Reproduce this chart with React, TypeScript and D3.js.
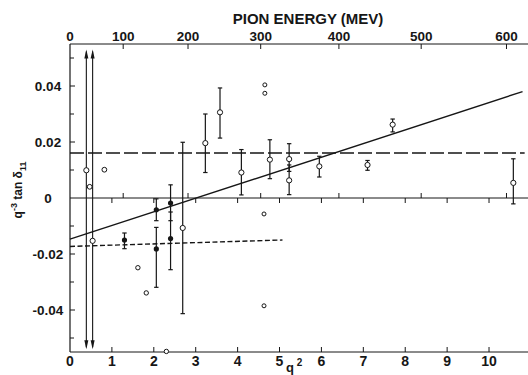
import React, { useEffect, useRef } from 'react';
import * as d3 from 'd3';

// q^2 (in units of m_pi^2) vs q^-3 tan(delta_11)
const q2Ticks = [0, 1, 2, 3, 4, 5, 6, 7, 8, 9, 10];
const q2TickLabels = ['0', '1', '2', '3', '4', '5', '6', '7', '8', '9', '10'];
const energyTicks = [0, 100, 200, 300, 400, 500, 600];
const yMajorTicks = [0.04, 0.02, 0, -0.02, -0.04];
const yTickLabels = ['0.04', '0.02', '0', '-0.02', '-0.04'];
const yMinorTicks = [0.05, 0.03, 0.01, -0.01, -0.03, -0.05];

// open circles with error bars
const openBars = [
  { q2: 2.69, v: -0.0107, lo: -0.0413, hi: 0.0199 },
  { q2: 3.23, v: 0.0196, lo: 0.0091, hi: 0.03 },
  { q2: 3.58, v: 0.0306, lo: 0.0214, hi: 0.0393 },
  { q2: 4.09, v: 0.0091, lo: 0.0011, hi: 0.0173 },
  { q2: 4.77, v: 0.0137, lo: 0.0069, hi: 0.0208 },
  { q2: 5.23, v: 0.0139, lo: 0.0095, hi: 0.0194 },
  { q2: 5.23, v: 0.0063, lo: 0.0012, hi: 0.0118 },
  { q2: 5.95, v: 0.0113, lo: 0.0075, hi: 0.0149 },
  { q2: 7.1, v: 0.0118, lo: 0.0099, hi: 0.0134 },
  { q2: 7.7, v: 0.0262, lo: 0.0236, hi: 0.0282 },
  { q2: 10.58, v: 0.0054, lo: -0.0021, hi: 0.014 }
];

// open circles without bars
const openPlain = [
  { q2: 0.39, v: 0.0099, r: 2.6 },
  { q2: 0.47, v: 0.004, r: 2.4 },
  { q2: 0.54, v: -0.0153, r: 2.6 },
  { q2: 0.82, v: 0.0101, r: 2.4 },
  { q2: 1.62, v: -0.0249, r: 2.2 },
  { q2: 1.82, v: -0.0339, r: 2.2 },
  { q2: 2.3, v: -0.0548, r: 2.2 },
  { q2: 4.63, v: -0.0057, r: 2 },
  { q2: 4.63, v: -0.0385, r: 2 },
  { q2: 4.65, v: 0.0404, r: 2 },
  { q2: 4.65, v: 0.0374, r: 2 }
];

// filled circles with error bars
const filledBars = [
  { q2: 1.3, v: -0.015, lo: -0.0181, hi: -0.0125 },
  { q2: 2.06, v: -0.0042, lo: -0.0081, hi: -0.0003 },
  { q2: 2.06, v: -0.0182, lo: -0.0319, hi: -0.0105 },
  { q2: 2.4, v: -0.0018, lo: -0.0081, hi: 0.0047 },
  { q2: 2.4, v: -0.0145, lo: -0.0256, hi: -0.005 }
];

// unbounded (double arrow) errors
const arrowQ2 = [0.39, 0.54];
const arrowRange = [-0.054, 0.053];

const solidFit: [number, number][] = [[0, -0.0147], [10.8, 0.038]];
const shortDashFit: [number, number][] = [[0, -0.0173], [5.07, -0.015]];
const longDashLevel = 0.0161;
const longDashExtent = [0, 10.85];

// lab pion kinetic energy (MeV) -> q^2 in units of m_pi^2
function energyToQ2(t: number) {
  const m = 139.6, M = 938.3;
  const s = m * m + M * M + 2 * M * (t + m);
  const q2 = ((s - (M + m) ** 2) * (s - (M - m) ** 2)) / (4 * s);
  return q2 / (m * m);
}

export default function App() {
  const svgRef = useRef<SVGSVGElement>(null);
  const width = 528;
  const height = 375;

  useEffect(() => {
    if (!svgRef.current) return;
    const svg = d3.select(svgRef.current);
    svg.selectAll('*').remove();

    const left = 70, right = 528, top = 44, bottom = 352;
    const x = d3.scaleLinear().domain([0, 10.93]).range([left, right]);
    const y = d3.scaleLinear().domain([-0.055, 0.055]).range([bottom, top]);
    const ink = '#161616';
    const font = '"Liberation Sans", Arial, sans-serif';

    const g = svg.append('g');

    // frame
    g.append('line').attr('x1', left).attr('x2', left).attr('y1', top).attr('y2', bottom)
      .attr('stroke', ink).attr('stroke-width', 1.2);
    g.append('line').attr('x1', left).attr('x2', right).attr('y1', top).attr('y2', top)
      .attr('stroke', ink).attr('stroke-width', 1);
    g.append('line').attr('x1', left).attr('x2', right).attr('y1', bottom).attr('y2', bottom)
      .attr('stroke', ink).attr('stroke-width', 1);
    // zero line
    g.append('line').attr('x1', left).attr('x2', right).attr('y1', y(0)).attr('y2', y(0))
      .attr('stroke', ink).attr('stroke-width', 1);

    // bottom ticks (inward) and zero-line down ticks
    q2Ticks.forEach((t, i) => {
      if (t > 0) {
        g.append('line').attr('x1', x(t)).attr('x2', x(t)).attr('y1', bottom).attr('y2', bottom - 5)
          .attr('stroke', ink);
        g.append('line').attr('x1', x(t)).attr('x2', x(t)).attr('y1', y(0)).attr('y2', y(0) + 5)
          .attr('stroke', ink);
      }
      g.append('text').attr('x', x(t)).attr('y', 366).attr('text-anchor', 'middle')
        .attr('font-family', font).attr('font-weight', 'bold').attr('font-size', 14)
        .attr('fill', ink).text(q2TickLabels[i]);
    });

    // top energy axis
    energyTicks.forEach(e => {
      const xe = x(energyToQ2(e));
      if (e > 0) {
        g.append('line').attr('x1', xe).attr('x2', xe).attr('y1', top).attr('y2', top + 5)
          .attr('stroke', ink);
        g.append('line').attr('x1', xe).attr('x2', xe).attr('y1', y(0)).attr('y2', y(0) - 5)
          .attr('stroke', ink);
      }
      g.append('text').attr('x', e === 600 ? Math.min(xe, 510) : xe).attr('y', 41).attr('text-anchor', 'middle')
        .attr('font-family', font).attr('font-weight', 'bold').attr('font-size', 13.5)
        .attr('fill', ink).text(String(e));
    });
    g.append('text').attr('x', 308).attr('y', 24).attr('text-anchor', 'middle')
      .attr('font-family', font).attr('font-weight', 'bold').attr('font-size', 15)
      .attr('fill', ink).text('PION ENERGY (MEV)');

    // left axis ticks + labels
    yMajorTicks.forEach((t, i) => {
      if (t !== 0) {
        g.append('line').attr('x1', left).attr('x2', left + 5).attr('y1', y(t)).attr('y2', y(t))
          .attr('stroke', ink);
      }
      g.append('text').attr('x', 48).attr('y', y(t) + 5).attr('text-anchor', 'middle')
        .attr('font-family', font).attr('font-weight', 'bold').attr('font-size', 13.5)
        .attr('fill', ink).text(yTickLabels[i]);
    });
    yMinorTicks.forEach(t => {
      g.append('line').attr('x1', left).attr('x2', left + 4).attr('y1', y(t)).attr('y2', y(t))
        .attr('stroke', ink);
    });

    // y-axis title
    const yt = g.append('text').attr('transform', 'translate(22,190) rotate(-90)')
      .attr('text-anchor', 'middle').attr('font-family', font).attr('font-weight', 'bold')
      .attr('font-size', 12).attr('fill', ink);
    yt.append('tspan').text('q');
    yt.append('tspan').attr('dy', -5).attr('font-size', 9).text('-3');
    yt.append('tspan').attr('dy', 5).text(' tan δ');
    yt.append('tspan').attr('dy', 3.5).attr('font-size', 9).text('11');

    // x-axis title
    g.append('text').attr('x', 290).attr('y', 371.5).attr('text-anchor', 'middle')
      .attr('font-family', font).attr('font-weight', 'bold').attr('font-size', 13)
      .attr('fill', ink).text('q');
    g.append('text').attr('x', 299.5).attr('y', 366).attr('text-anchor', 'middle')
      .attr('font-family', font).attr('font-weight', 'bold').attr('font-size', 10)
      .attr('fill', ink).text('2');

    // fitted lines
    const lineGen = d3.line<[number, number]>().x(d => x(d[0])).y(d => y(d[1]));
    g.append('path').attr('d', lineGen(solidFit)).attr('fill', 'none')
      .attr('stroke', ink).attr('stroke-width', 1.4);
    g.append('path').attr('d', lineGen(shortDashFit)).attr('fill', 'none')
      .attr('stroke', ink).attr('stroke-width', 1.4).attr('stroke-dasharray', '5,2.5');
    g.append('line').attr('x1', x(longDashExtent[0])).attr('x2', x(longDashExtent[1]))
      .attr('y1', y(longDashLevel)).attr('y2', y(longDashLevel))
      .attr('stroke', ink).attr('stroke-width', 1.5).attr('stroke-dasharray', '14,4');

    // arrows
    arrowQ2.forEach(q => {
      const xa = x(q);
      const y1 = y(arrowRange[1]);
      const y2 = y(arrowRange[0]);
      g.append('line').attr('x1', xa).attr('x2', xa).attr('y1', y1 + 2).attr('y2', y2 - 2)
        .attr('stroke', ink).attr('stroke-width', 1.1);
      g.append('path').attr('d', `M${xa},${y1} L${xa - 2},${y1 + 9} L${xa + 2},${y1 + 9} Z`).attr('fill', ink);
      g.append('path').attr('d', `M${xa},${y2} L${xa - 2},${y2 - 9} L${xa + 2},${y2 - 9} Z`).attr('fill', ink);
    });

    // error bars
    const drawBar = (d: { q2: number; lo: number; hi: number }) => {
      const xb = x(d.q2);
      g.append('line').attr('x1', xb).attr('x2', xb).attr('y1', y(d.lo)).attr('y2', y(d.hi))
        .attr('stroke', ink).attr('stroke-width', 1.2);
      [d.lo, d.hi].forEach(v => {
        g.append('line').attr('x1', xb - 2.2).attr('x2', xb + 2.2).attr('y1', y(v)).attr('y2', y(v))
          .attr('stroke', ink).attr('stroke-width', 1.2);
      });
    };
    openBars.forEach(drawBar);
    filledBars.forEach(drawBar);

    // circles
    g.selectAll('.open-bar').data(openBars).enter().append('circle')
      .attr('cx', d => x(d.q2)).attr('cy', d => y(d.v)).attr('r', 2.6)
      .attr('fill', '#fff').attr('stroke', ink).attr('stroke-width', 1);
    g.selectAll('.open-plain').data(openPlain).enter().append('circle')
      .attr('cx', d => x(d.q2)).attr('cy', d => y(d.v)).attr('r', d => d.r)
      .attr('fill', '#fff').attr('stroke', ink).attr('stroke-width', 1);
    g.selectAll('.filled').data(filledBars).enter().append('circle')
      .attr('cx', d => x(d.q2)).attr('cy', d => y(d.v)).attr('r', 2.6)
      .attr('fill', ink);
  }, []);

  return (
    <div style={{ position: 'absolute', left: 0, top: 0, width, height, background: '#fff' }}>
      <svg ref={svgRef} width={width} height={height} viewBox={`0 0 ${width} ${height}`} />
    </div>
  );
}
